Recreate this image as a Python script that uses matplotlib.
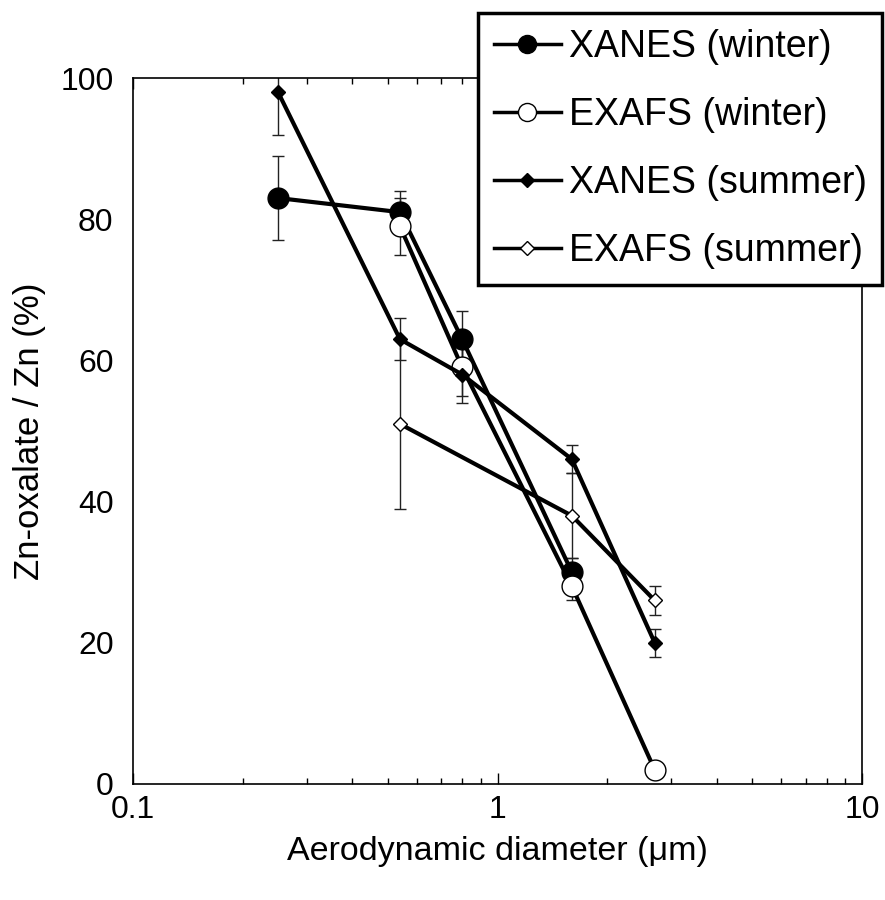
import matplotlib
matplotlib.use("Agg")
import matplotlib.pyplot as plt
from matplotlib.lines import Line2D
from matplotlib.ticker import NullFormatter, LogLocator

plt.rcParams['font.family'] = ['Liberation Sans', 'DejaVu Sans']

# Data
xw_x = [0.25, 0.54, 0.80, 1.6]
xw_y = [83, 81, 63, 30]
xw_e = [6, 3, 4, 2]

ew_x = [0.54, 0.80, 1.6, 2.7]
ew_y = [79, 59, 28, 2]
ew_e = [4, 4, 2, 0]

xs_x = [0.25, 0.54, 0.80, 1.6, 2.7]
xs_y = [98, 63, 58, 46, 20]
xs_e = [6, 3, 4, 2, 2]

es_x = [0.54, 1.6, 2.7]
es_y = [51, 38, 26]
es_e = [12, 6, 2]

labels = ['XANES (winter)', 'EXAFS (winter)', 'XANES (summer)', 'EXAFS (summer)']
yticks = [0, 20, 40, 60, 80, 100]
xticks = [0.1, 1, 10]
xticklabels = ['0.1', '1', '10']

fig = plt.figure(figsize=(8.85, 9.0), dpi=100)
ax = fig.add_axes([0.1503, 0.1289, 0.8237, 0.7844])

series = [
    (xw_x, xw_y, xw_e, dict(marker='o', ms=15, mfc='black', mec='black', mew=1)),
    (ew_x, ew_y, ew_e, dict(marker='o', ms=15, mfc='white', mec='black', mew=1)),
    (xs_x, xs_y, xs_e, dict(marker='D', ms=7.5, mfc='black', mec='black', mew=1)),
    (es_x, es_y, es_e, dict(marker='D', ms=7.5, mfc='white', mec='black', mew=1)),
]

for i, (x, y, e, st) in enumerate(series):
    ax.errorbar(x, y, yerr=e, fmt='none', ecolor='#222222', elinewidth=1.0,
                capsize=4, capthick=1.0, zorder=2 + i * 0.1)
for i, (x, y, e, st) in enumerate(series):
    ax.plot(x, y, color='black', lw=3.0, zorder=3 + i, **st)

ax.set_xscale('log')
ax.set_xlim(0.1, 10)
ax.set_ylim(0, 100)
ax.set_xticks(xticks)
ax.set_xticklabels(xticklabels)
ax.xaxis.set_minor_locator(LogLocator(base=10, subs=range(2, 10)))
ax.xaxis.set_minor_formatter(NullFormatter())
ax.set_yticks(yticks)

ax.tick_params(axis='x', which='major', direction='in', length=8, width=1,
               top=True, bottom=True, labelsize=23, pad=8)
ax.tick_params(axis='x', which='minor', direction='in', length=4.5, width=1,
               top=True, bottom=True)
ax.tick_params(axis='y', which='both', length=0, labelsize=23, pad=14)

for s in ax.spines.values():
    s.set_linewidth(1.2)
    s.set_color('black')

ax.set_xlabel('Aerodynamic diameter (\u03bcm)', fontsize=24.5, labelpad=8)
ax.set_ylabel('Zn-oxalate / Zn (%)', fontsize=25, labelpad=10)

handles = [
    Line2D([], [], color='black', lw=2.5, marker='o', ms=13, mfc='black', mec='black'),
    Line2D([], [], color='black', lw=2.5, marker='o', ms=13, mfc='white', mec='black', mew=1),
    Line2D([], [], color='black', lw=2.5, marker='D', ms=7, mfc='black', mec='black'),
    Line2D([], [], color='black', lw=2.5, marker='D', ms=7, mfc='white', mec='black', mew=1),
]
leg = fig.legend(handles, labels, loc='upper left', bbox_to_anchor=(0.540, 0.9856),
                 bbox_transform=fig.transFigure, fontsize=27, frameon=True,
                 fancybox=False, edgecolor='black', framealpha=1,
                 borderaxespad=0, borderpad=0.42, labelspacing=0.86,
                 handlelength=1.8, handletextpad=0.2)
leg.get_frame().set_linewidth(2.5)
leg.set_zorder(20)

fig.savefig('out.png', dpi=100)
